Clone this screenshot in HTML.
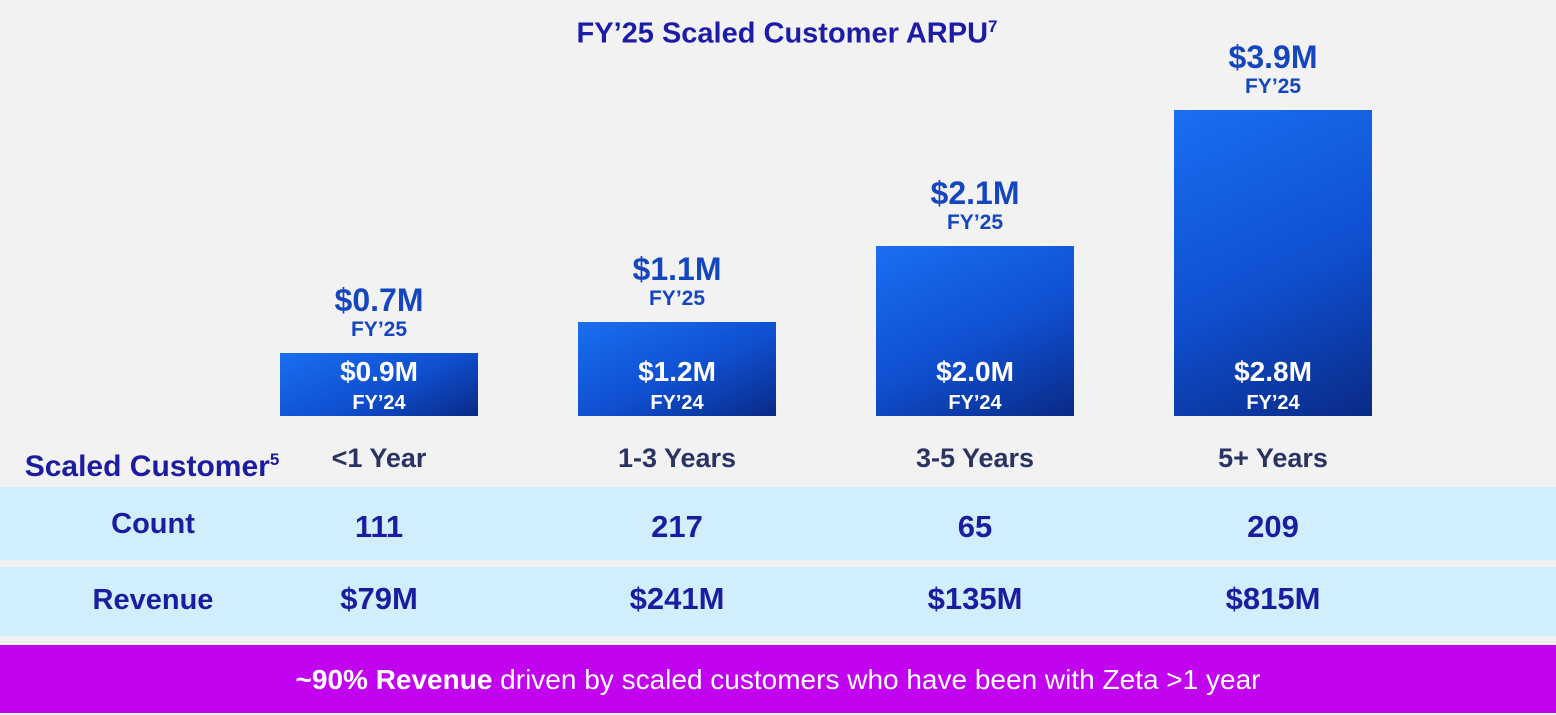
<!DOCTYPE html>
<html><head><meta charset="utf-8">
<style>
body{margin:0;width:1556px;height:713px;background:#f2f2f2;font-family:"Liberation Sans",sans-serif;position:relative;overflow:hidden}
.abs{position:absolute}
.t{position:absolute;transform:translateX(-50%);white-space:nowrap;font-weight:bold;text-align:center}
.bar{position:absolute;background:linear-gradient(155deg,#1a6ff0 0%,#0f4fd0 55%,#0a2a86 100%)}
.band{position:absolute;left:0;width:1556px;background:#d0eefc}
</style></head><body>
<div class="t" style="left:787px;top:17px;font-size:29px;color:#1c1ca8">FY’25 Scaled Customer ARPU<sup style="font-size:17px">7</sup></div>
<div id="chart"></div>
<div class="t" style="left:152px;top:450px;font-size:30px;color:#1c1ca0">Scaled Customer<sup style="font-size:17px">5</sup></div>
<div class="band" style="top:487px;height:73px"></div>
<div class="band" style="top:567px;height:69px"></div>
<div class="t" style="left:153px;top:508px;font-size:29px;color:#1c1ca0">Count</div>
<div class="t" style="left:153px;top:584px;font-size:29px;color:#1c1ca0">Revenue</div>
<div class="abs" style="left:0;top:645px;width:1556px;height:68px;background:#c203f0;color:#fff;font-size:28px;text-align:center;line-height:70px"><b>~90% Revenue</b> driven by scaled customers who have been with Zeta &gt;1 year</div>
<script>
const categories=["<1 Year","1-3 Years","3-5 Years","5+ Years"];
const fy25=[0.7,1.1,2.1,3.9];
const fy24=[0.9,1.2,2.0,2.8];
const counts=["111","217","65","209"];
const revenues=["$79M","$241M","$135M","$815M"];
const baseY=416, barW=198;
function xc(i){return 379+i*298;}
function h(v){return 76*v+10;}
function mk(tag,name,css,txt){const e=document.createElement(tag);

e.style.cssText=css;if(txt!==undefined)e.textContent=txt;document.body.appendChild(e);return e;}
categories.forEach((c,i)=>{
 const x=xc(i), top=baseY-h(fy25[i]);
 const b=mk('div','bar-'+i,`left:${x-barW/2}px;top:${top}px;width:${barW}px;height:${h(fy25[i])}px`);b.className='bar';
 let e=mk('div','fy25-value-'+i,`left:${x}px;top:${top-71}px;font-size:32px;color:#1446c0`,'$'+fy25[i].toFixed(1)+'M');e.className='t';
 e=mk('div','fy25-label-'+i,`left:${x}px;top:${top-35}px;font-size:21px;color:#1446c0`,'FY’25');e.className='t';
 e=mk('div','fy24-value-'+i,`left:${x}px;top:${baseY-60}px;font-size:28px;color:#fff`,'$'+fy24[i].toFixed(1)+'M');e.className='t';
 e=mk('div','fy24-label-'+i,`left:${x}px;top:${baseY-24}px;font-size:20px;color:#fff`,'FY’24');e.className='t';
 e=mk('div','category-label-'+i,`left:${x}px;top:443px;font-size:27px;color:#2a3462`,c);e.className='t';
 e=mk('div','count-'+i,`left:${x}px;top:509px;font-size:31px;color:#1c1ca0`,counts[i]);e.className='t';
 e=mk('div','revenue-'+i,`left:${x}px;top:581px;font-size:31px;color:#1c1ca0`,revenues[i]);e.className='t';
});
</script>
</body></html>
